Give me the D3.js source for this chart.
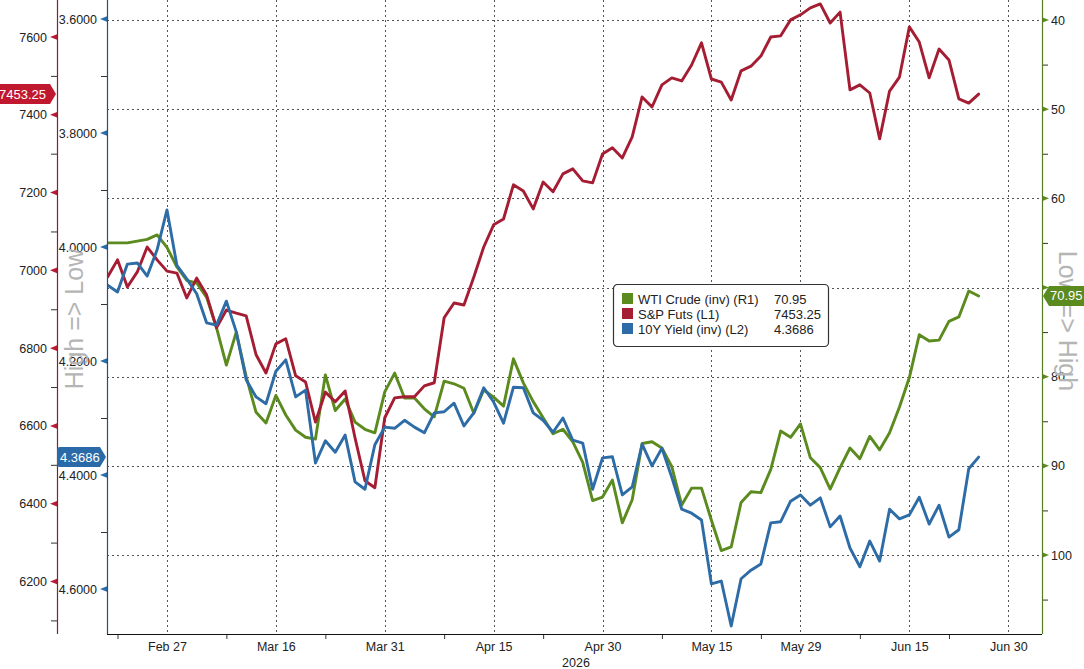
<!DOCTYPE html>
<html>
<head>
<meta charset="utf-8">
<script src="https://cdnjs.cloudflare.com/ajax/libs/d3/7.8.5/d3.min.js"></script>
<title>WTI vs S&P vs 10Y</title>
<style>
  body { margin: 0; background: #fff; }
  svg { display: block; font-family: "Liberation Sans", Arial, sans-serif; }
  .grid line { stroke: #555; stroke-width: 1; stroke-dasharray: 2,3; }
  .tick text { fill: #222; font-size: 12.5px; }
  .minor line { stroke: #333; }
  .series { fill: none; stroke-width: 2.9; stroke-linejoin: round; stroke-linecap: round; }
</style>
</head>
<body>
<svg width="1084" height="669"></svg>
<script>
// daily closes, one value per trading day (Feb 19 .. Jun 25, 2026)
var spx = [
  6983, 7027, 6957, 6996, 7060, 7027, 6998, 6993, 6929, 6980,
  6937, 6852, 6898, 6890, 6883, 6783, 6736, 6811, 6824, 6729,
  6713, 6610, 6687, 6662, 6690, 6569, 6459, 6441, 6621, 6672,
  6675, 6675, 6703, 6711, 6878, 6916, 6911, 6983, 7060, 7117,
  7132, 7220, 7204, 7158, 7227, 7202, 7248, 7261, 7230, 7225,
  7299, 7315, 7289, 7343, 7446, 7420, 7477, 7495, 7487, 7528,
  7585, 7492, 7484, 7438, 7513, 7525, 7551, 7600, 7603, 7644,
  7657, 7675, 7685, 7636, 7664, 7464, 7477, 7456, 7338, 7461,
  7497, 7626, 7587, 7495, 7569, 7541, 7441, 7430, 7453.25
];
var yld = [
  4.067, 4.079, 4.030, 4.028, 4.051, 4.005, 3.935, 4.032, 4.056, 4.082,
  4.133, 4.137, 4.095, 4.149, 4.233, 4.263, 4.275, 4.218, 4.198, 4.263,
  4.251, 4.379, 4.340, 4.360, 4.330, 4.412, 4.425, 4.347, 4.316, 4.318,
  4.304, 4.316, 4.326, 4.291, 4.289, 4.274, 4.314, 4.291, 4.247, 4.272,
  4.309, 4.246, 4.247, 4.291, 4.304, 4.325, 4.300, 4.339, 4.344, 4.425,
  4.370, 4.368, 4.435, 4.421, 4.346, 4.384, 4.353, 4.404, 4.460, 4.467,
  4.479, 4.591, 4.586, 4.665, 4.582, 4.567, 4.556, 4.484, 4.482, 4.446,
  4.435, 4.453, 4.440, 4.491, 4.472, 4.528, 4.561, 4.516, 4.551, 4.460,
  4.477, 4.470, 4.439, 4.486, 4.453, 4.509, 4.496, 4.389, 4.3686
];
var wti = [
  65.0, 65.0, 65.0, 64.8, 64.6, 64.1, 65.5, 67.7, 69.2, 69.5,
  71.1, 74.5, 78.7, 75.0, 80.0, 84.0, 85.2, 82.1, 84.3, 86.0,
  86.8, 87.0, 79.8, 83.8, 82.5, 85.1, 85.9, 86.3, 81.7, 79.6,
  82.4, 82.4, 83.6, 84.5, 80.5, 80.8, 81.3, 84.1, 81.5, 82.3,
  83.3, 78.0, 80.7, 82.8, 84.6, 86.4, 85.9, 87.3, 89.6, 93.9,
  93.5, 91.6, 96.4, 93.8, 87.5, 87.3, 88.0, 90.1, 94.4, 92.5,
  92.5, 96.1, 99.5, 99.1, 94.1, 92.9, 93.0, 90.4, 86.1, 86.8,
  85.3, 89.1, 90.2, 92.6, 90.2, 88.0, 89.2, 86.7, 88.2, 86.3,
  83.4, 80.1, 75.3, 76.0, 75.9, 73.8, 73.3, 70.4, 70.95
];

var xTickIdx = [6, 17, 28, 39, 50, 61, 70, 81, 91];
var xTickLabels = ['Feb 27', 'Mar 16', 'Mar 31', 'Apr 15', 'Apr 30', 'May 15', 'May 29', 'Jun 15', 'Jun 30'];
var xMinorIdx = [1, 12, 22, 34, 44, 56, 66, 76, 85];
var yearLabel = '2026';

var spxTicks = [6200, 6400, 6600, 6800, 7000, 7200, 7400, 7600];
var spxMinor = [6100, 6300, 6500, 6700, 6900, 7100, 7300, 7500];
var yldTicks = [3.6, 3.8, 4.0, 4.2, 4.4, 4.6];
var yldMinor = [3.7, 3.9, 4.1, 4.3, 4.5];
var wtiTicks = [40, 50, 60, 70, 80, 90, 100];
var wtiMinor = [45, 55, 65, 75, 85, 95, 105];

var names = ['WTI Crude (inv) (R1)', 'S&P Futs (L1)', '10Y Yield (inv) (L2)'];
var lastVals = ['70.95', '7453.25', '4.3686'];
var colors = ['#5b8a1e', '#a51d33', '#2d6ca6'];

var svg = d3.select('svg');
var plotTop = 0, plotBottom = 634, plotLeft = 107, plotRight = 1042;

var x = d3.scaleLinear().domain([0, 94.4]).range([107.6, 1042]);
var yL1 = d3.scaleLinear().domain([6200, 7600]).range([581.5, 37]);
var yL2 = d3.scaleLinear().domain([3.6, 4.6]).range([19, 589]);
var yR1 = d3.scaleLinear().domain([40, 100]).range([20, 555]);

svg.append('rect').attr('width', 1084).attr('height', 669).attr('fill', '#fff');

// grid
var grid = svg.append('g').attr('class', 'grid');
grid.selectAll('.h').data(wtiTicks).enter().append('line')
  .attr('x1', plotLeft).attr('x2', plotRight)
  .attr('y1', function(d) { return Math.round(yR1(d)) + 0.5; })
  .attr('y2', function(d) { return Math.round(yR1(d)) + 0.5; });
grid.selectAll('.v').data(xTickIdx).enter().append('line')
  .attr('y1', plotTop).attr('y2', plotBottom)
  .attr('x1', function(d) { return Math.round(x(d)) + 0.5; })
  .attr('x2', function(d) { return Math.round(x(d)) + 0.5; });

// lines
svg.append('clipPath').attr('id', 'plot')
  .append('rect').attr('x', plotLeft).attr('y', plotTop)
  .attr('width', plotRight - plotLeft).attr('height', plotBottom - plotTop);
var plot = svg.append('g').attr('clip-path', 'url(#plot)');
function mkLine(scale) {
  return d3.line().x(function(d, i) { return x(i); }).y(function(d) { return scale(d); });
}
plot.append('path').attr('class', 'series').attr('stroke', colors[0]).attr('d', mkLine(yR1)(wti));
plot.append('path').attr('class', 'series').attr('stroke', colors[1]).attr('d', mkLine(yL1)(spx));
plot.append('path').attr('class', 'series').attr('stroke', colors[2]).attr('d', mkLine(yL2)(yld));

// axis helper
function yAxis(xpos, scale, major, minor, fmt, side, lineColor, markColor) {
  var g = svg.append('g').attr('transform', 'translate(' + xpos + ',0)');
  var ax = side === 'left' ? d3.axisLeft(scale) : d3.axisRight(scale);
  g.call(ax.tickValues(major).tickSize(0).tickPadding(10).tickFormat(fmt));
  g.select('.domain').remove();
  g.selectAll('.tick text').style('font-size', '12.5px');
  var gm = svg.append('g').attr('class', 'minor').attr('transform', 'translate(' + xpos + ',0)');
  var axm = side === 'left' ? d3.axisLeft(scale) : d3.axisRight(scale);
  gm.call(axm.tickValues(minor).tickSize(6).tickFormat(''));
  gm.select('.domain').remove();
  var s = side === 'left' ? -1 : 1;
  g.selectAll('.mark').data(major).enter().append('path')
    .attr('d', 'M0,-2.8L' + (7 * s) + ',0L0,2.8Z')
    .attr('transform', function(d) { return 'translate(0,' + scale(d) + ')'; })
    .attr('fill', markColor);
  svg.append('line').attr('x1', xpos + 0.5).attr('x2', xpos + 0.5)
    .attr('y1', plotTop).attr('y2', plotBottom).attr('stroke', lineColor).attr('stroke-width', 1.2);
  return g;
}
yAxis(57, yL1, spxTicks, spxMinor, d3.format('d'), 'left', '#7d2434', '#b81c34');
yAxis(107, yL2, yldTicks, yldMinor, d3.format('.4f'), 'left', '#2b4d70', '#2d6ca6');
// the 70 label sits under the last-value tag
var gR = yAxis(1042, yR1, wtiTicks, wtiMinor, function(d) { return d === 70 ? '' : d; },
  'right', '#557d22', '#5b8a1e');
gR.selectAll('.tick text').attr('x', 9);

// x axis
var gx = svg.append('g').attr('transform', 'translate(0,' + plotBottom + ')');
gx.call(d3.axisBottom(x).tickValues(xTickIdx).tickSize(0).tickPadding(8)
  .tickFormat(function(d, i) { return xTickLabels[i]; }));
gx.select('.domain').remove();
var gxm = svg.append('g').attr('class', 'minor').attr('transform', 'translate(0,' + plotBottom + ')');
gxm.call(d3.axisBottom(x).tickValues(xMinorIdx).tickSize(5).tickFormat(''));
gxm.select('.domain').remove();
svg.append('line').attr('x1', plotLeft).attr('x2', plotRight)
  .attr('y1', plotBottom + 0.5).attr('y2', plotBottom + 0.5)
  .attr('stroke', '#111').attr('stroke-width', 1.2);
svg.append('text').attr('x', 576).attr('y', 667).attr('text-anchor', 'middle')
  .style('font-size', '12.5px').attr('fill', '#222').text(yearLabel);

// axis titles
svg.append('text').attr('transform', 'translate(74,319) rotate(-90)')
  .attr('text-anchor', 'middle').attr('dominant-baseline', 'central')
  .attr('fill', '#b5b5b5').style('font-size', '25px').text('High => Low');
svg.append('text').attr('transform', 'translate(1068,321) rotate(90)')
  .attr('text-anchor', 'middle').attr('dominant-baseline', 'central')
  .attr('fill', '#b5b5b5').style('font-size', '25px').text('Low => High');

// last value tags
function tagLeft(xTip, xStart, y, txt, col) {
  var h = 10;
  svg.append('path')
    .attr('d', 'M' + (xStart + 3) + ',' + (y - h) + 'L' + (xTip - 6) + ',' + (y - h) + 'L' + xTip + ',' + y +
      'L' + (xTip - 6) + ',' + (y + h) + 'L' + (xStart + 3) + ',' + (y + h) +
      'Q' + xStart + ',' + (y + h) + ' ' + xStart + ',' + (y + h - 3) +
      'L' + xStart + ',' + (y - h + 3) + 'Q' + xStart + ',' + (y - h) + ' ' + (xStart + 3) + ',' + (y - h) + 'Z')
    .attr('fill', col);
  svg.append('text').attr('x', xStart + 3).attr('y', y + 4.5).attr('fill', '#fff')
    .style('font-size', '13px').text(txt);
}
tagLeft(56, -4, yL1(spx[spx.length - 1]), lastVals[1], '#c0182f');
tagLeft(106, 57, yL2(yld[yld.length - 1]), lastVals[2], '#2a6aa8');
(function() {
  var y = yR1(wti[wti.length - 1]), h = 10, xt = 1043;
  svg.append('path')
    .attr('d', 'M' + xt + ',' + y + 'L' + (xt + 6) + ',' + (y - h) + 'L1090,' + (y - h) +
      'L1090,' + (y + h) + 'L' + (xt + 6) + ',' + (y + h) + 'Z')
    .attr('fill', '#5b8a1e');
  svg.append('text').attr('x', 1050).attr('y', y + 4.5).attr('fill', '#fff')
    .style('font-size', '13px').text(lastVals[0]);
})();

// legend
var lg = svg.append('g').attr('transform', 'translate(613.5,284.5)');
lg.append('rect').attr('width', 215).attr('height', 62).attr('rx', 4)
  .attr('fill', '#fff').attr('stroke', '#333').attr('stroke-width', 1.2);
names.forEach(function(n, i) {
  lg.append('rect').attr('x', 8.5).attr('y', 8.5 + i * 15).attr('width', 11).attr('height', 11).attr('fill', colors[i]);
  lg.append('text').attr('x', 24.5).attr('y', 19.5 + i * 15).style('font-size', '13px').attr('fill', '#222').text(n);
  lg.append('text').attr('x', 160.5).attr('y', 19.5 + i * 15).style('font-size', '13px').attr('fill', '#222').text(lastVals[i]);
});
</script>
</body>
</html>
